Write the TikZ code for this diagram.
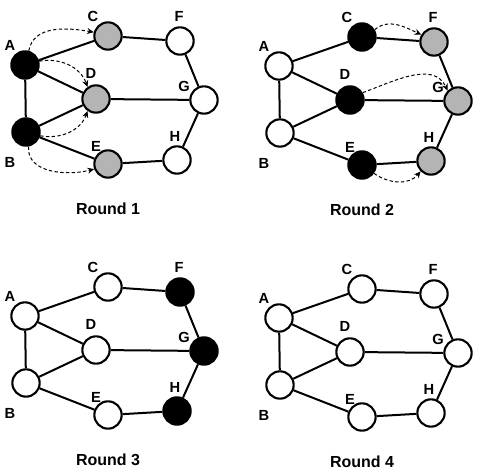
\documentclass[tikz,border=0pt]{standalone}
\usepackage{fontspec}
\setmainfont{Liberation Sans}
\usetikzlibrary{arrows.meta}
\definecolor{vgray}{HTML}{B4B4B4}
\tikzset{
  vtx/.style={circle,draw=black,line width=1.6pt,minimum size=20.5pt,inner sep=0pt},
  vA/.style={fill=white},vB/.style={fill=white},vC/.style={fill=white},vD/.style={fill=white},
  vE/.style={fill=white},vF/.style={fill=white},vG/.style={fill=white},vH/.style={fill=white},
  edge/.style={line width=1.5pt},
  lbl/.style={font=\bfseries\fontsize{11pt}{13pt}\selectfont,inner sep=0pt},
  ttl/.style={font=\bfseries\fontsize{12pt}{14pt}\selectfont,inner sep=0pt},
  pass/.style={dashed,dash pattern=on 2.5pt off 1.8pt,line width=0.75pt,-{Stealth[length=5pt,width=4.5pt]}}
}
\newcommand{\drawpanel}[2]{%
  \node[vtx,vA] (#1A) at (25,65) {};
  \node[vtx,vB] (#1B) at (26,132) {};
  \node[vtx,vC] (#1C) at (108,36) {};
  \node[vtx,vD] (#1D) at (96,99) {};
  \node[vtx,vE] (#1E) at (108,164) {};
  \node[vtx,vF] (#1F) at (180,41) {};
  \node[vtx,vG] (#1G) at (204,100) {};
  \node[vtx,vH] (#1H) at (177,160) {};
  \draw[edge] (#1A) -- (#1B);
  \draw[edge] (#1A) -- (#1C);
  \draw[edge] (#1A) -- (#1D);
  \draw[edge] (#1B) -- (#1D);
  \draw[edge] (#1B) -- (#1E);
  \draw[edge] (#1C) -- (#1F);
  \draw[edge] (#1D) -- (#1G);
  \draw[edge] (#1E) -- (#1H);
  \draw[edge] (#1F) -- (#1G);
  \draw[edge] (#1G) -- (#1H);
  \node[lbl] (#1lA) at (10,45) {A};
  \node[lbl] (#1lB) at (10,162) {B};
  \node[lbl] (#1lC) at (93,16) {C};
  \node[lbl] (#1lD) at (91,73) {D};
  \node[lbl] (#1lE) at (96,146) {E};
  \node[lbl] (#1lF) at (179,16) {F};
  \node[lbl] (#1lG) at (184,86) {G};
  \node[lbl] (#1lH) at (175,136) {H};
  \node[ttl] (#1t) at (108,209) {#2};
}
\begin{document}
\begin{tikzpicture}[x=0.75pt,y=-0.75pt]
\useasboundingbox (0,0) rectangle (480,473);
\begin{scope}[vA/.style={fill=black},vB/.style={fill=black},
  vC/.style={fill=vgray},vD/.style={fill=vgray},vE/.style={fill=vgray}]
  \drawpanel{p}{Round 1}
  \draw[pass] (pA.75) to[out=80,in=170] (pC.165);
  \draw[pass] (pA.15) to[out=10,in=110] (pD.125);
  \draw[pass] (pB.-15) to[out=-10,in=-110] (pD.235);
  \draw[pass] (pB.-80) to[out=-95,in=195] (pE.200);
\end{scope}
\begin{scope}[shift={(254,1)},vC/.style={fill=black},vD/.style={fill=black},vE/.style={fill=black},
  vF/.style={fill=vgray},vG/.style={fill=vgray},vH/.style={fill=vgray}]
  \drawpanel{q}{Round 2}
  \draw[pass] (qC.30) to[out=40,in=155] (qF.150);
  \draw[pass] (qD.30) to[out=20,in=115] (qG.135);
  \draw[pass] (qE.-35) to[out=-35,in=-130] (qH.-135);
\end{scope}
\begin{scope}[shift={(0,251)},vF/.style={fill=black},vG/.style={fill=black},vH/.style={fill=black}]
  \drawpanel{r}{Round 3}
\end{scope}
\begin{scope}[shift={(254,253)}]
  \drawpanel{s}{Round 4}
\end{scope}
\end{tikzpicture}
\end{document}
